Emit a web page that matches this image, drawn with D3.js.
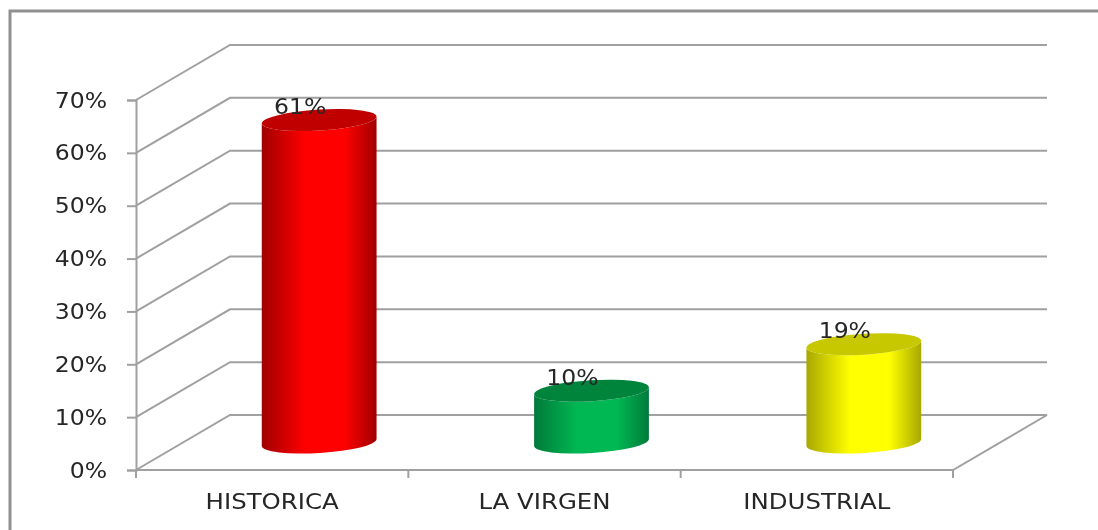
<!DOCTYPE html>
<html>
<head>
<meta charset="utf-8">
<script src="https://cdn.jsdelivr.net/npm/d3@7"></script>
<style>
  html, body { margin: 0; padding: 0; background: #fff; }
  svg { display: block; filter: blur(0.5px); }
  text { font-family: "DejaVu Sans", sans-serif; fill: #262626; }
</style>
</head>
<body>
<svg id="chart" width="1098" height="530"></svg>
<script>
var categories = ["HISTORICA", "LA VIRGEN", "INDUSTRIAL"];
var values = [61, 9.8, 18.6];
var labelValues = [61, 10, 19];
var yTicks = [0, 10, 20, 30, 40, 50, 60, 70];
var sideColors = ["#a00000", "#007a3a", "#a8a800"];
var midColors = ["#ff0000", "#00b853", "#ffff00"];
var topColors = ["#c00000", "#00843c", "#c8c800"];

var svg = d3.select("#chart");
var gridColor = "#a0a0a0";

// depth of the fake 3d box
var depthX = 94, depthY = -55;

var x = d3.scaleBand().domain(categories).range([136, 953]);
var y = d3.scaleLinear().domain([0, 70]).range([470, 100]);

// the original text is a stretched image, so widen the glyphs to fit
function stretch(sel, k) {
    sel.each(function() {
        this.setAttribute("textLength", this.getComputedTextLength() * k);
        this.setAttribute("lengthAdjust", "spacingAndGlyphs");
    });
}

// outer frame: only top and left edges show
svg.append("path")
    .attr("d", "M10,530V11H1098")
    .attr("fill", "none")
    .attr("stroke", "#909090")
    .attr("stroke-width", 3);

var grid = svg.append("g").attr("fill", "none").attr("stroke", gridColor).attr("stroke-width", 2);

yTicks.forEach(function(t) {
    grid.append("path")
        .attr("d", "M136," + y(t) + "L" + (136 + depthX) + "," + (y(t) + depthY) + "H" + (953 + depthX));
});
// floor edges
grid.append("path").attr("d", "M136,470H953L" + (953 + depthX) + "," + (470 + depthY));

// axes
var yAxis = d3.axisLeft(y).tickValues(yTicks).tickSize(9).tickPadding(20).tickFormat(function(d) { return d + "%"; });
var yG = svg.append("g").attr("transform", "translate(136,0)").call(yAxis);
yG.selectAll("line,path").attr("stroke", gridColor).attr("stroke-width", 2);
yG.selectAll("text").attr("font-size", 22).attr("fill", "#262626").style("font-family", '"DejaVu Sans", sans-serif').call(stretch, 1.07);

var xAxis = d3.axisBottom(x).tickSize(0).tickPadding(23);
var xG = svg.append("g").attr("transform", "translate(0,470)").call(xAxis);
xG.select(".domain").remove();
xG.selectAll("text").attr("font-size", 22).attr("fill", "#262626").style("font-family", '"DejaVu Sans", sans-serif').call(stretch, 1.11);

// category ticks are on band edges
var edges = [136].concat(categories.map(function(c) { return x(c) + x.bandwidth(); }));
svg.append("g").selectAll("line").data(edges).enter().append("line")
    .attr("x1", function(d) { return d; })
    .attr("x2", function(d) { return d; })
    .attr("y1", 470).attr("y2", 478)
    .attr("stroke", gridColor).attr("stroke-width", 2);

// horizontal gradient for each cylinder
var defs = svg.append("defs");
categories.forEach(function(c, i) {
    var grad = defs.append("linearGradient").attr("id", "cyl" + i);
    grad.append("stop").attr("offset", "0%").attr("stop-color", sideColors[i]);
    grad.append("stop").attr("offset", "38%").attr("stop-color", midColors[i]);
    grad.append("stop").attr("offset", "72%").attr("stop-color", midColors[i]);
    grad.append("stop").attr("offset", "100%").attr("stop-color", sideColors[i]);
});

var rx = 57.5, ry = 10.5, tilt = -3.5;
var dx = rx * Math.cos(tilt * Math.PI / 180), dy = rx * Math.sin(tilt * Math.PI / 180);

var bars = svg.append("g").selectAll("g").data(categories).enter().append("g");

function cx(c) { return x(c) + x.bandwidth() / 2 + depthX / 2; }
function base(v) { return y(v) + depthY / 2; }

bars.append("path")
    .attr("fill", function(d, i) { return "url(#cyl" + i + ")"; })
    .attr("d", function(d, i) {
        var c = cx(d), b = base(0), t = base(values[i]);
        return "M" + (c - dx) + "," + (t - dy) + "L" + (c - dx) + "," + (b - dy) +
            "A" + rx + "," + ry + "," + tilt + ",0,0," + (c + dx) + "," + (b + dy) +
            "L" + (c + dx) + "," + (t + dy) +
            "A" + rx + "," + ry + "," + tilt + ",0,1," + (c - dx) + "," + (t - dy) + "Z";
    });

bars.append("ellipse")
    .attr("rx", rx).attr("ry", ry)
    .attr("fill", function(d, i) { return topColors[i]; })
    .attr("transform", function(d, i) {
        return "translate(" + cx(d) + "," + base(values[i]) + ") rotate(" + tilt + ")";
    });

bars.append("text")
    .attr("text-anchor", "middle")
    .attr("font-size", 22)
    .attr("x", function(d) { return cx(d) - 19; })
    .attr("y", function(d, i) { return base(values[i]) - 6; })
    .text(function(d, i) { return labelValues[i] + "%"; })
    .call(stretch, 1.07);
</script>
</body>
</html>
